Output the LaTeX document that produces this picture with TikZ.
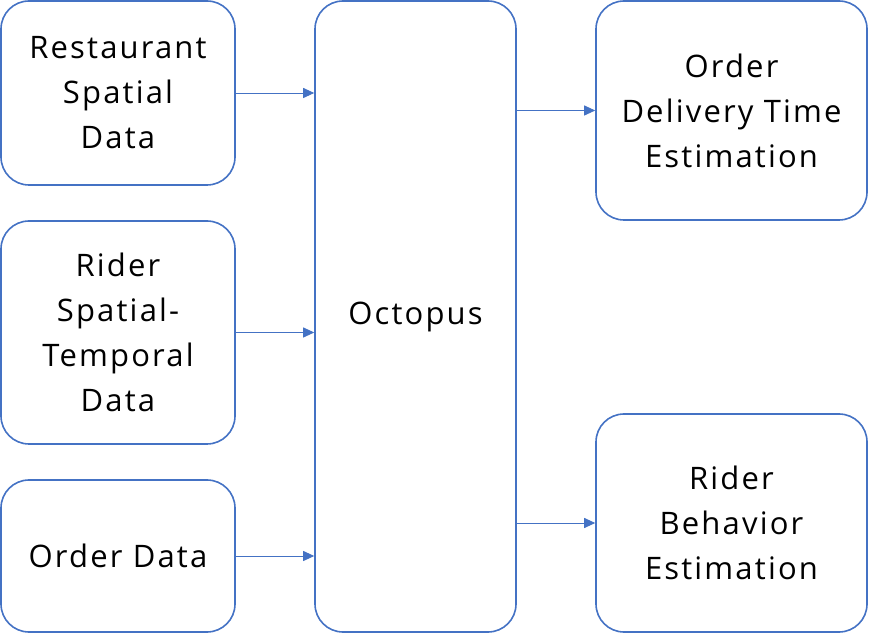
\documentclass[tikz,border=0pt]{standalone}
\usepackage{fontspec}
\setmainfont[LetterSpace=7]{Open Sans}
\usepackage{xcolor}
\usetikzlibrary{positioning,arrows.meta}
\definecolor{cblue}{RGB}{68,114,196}

\begin{document}
\begin{tikzpicture}[x=1pt, y=1pt,
      block/.style={draw=cblue, rounded corners=28pt, line width=1.6pt, align=center,
                    font=\fontsize{31}{45}\selectfont, inner sep=0pt},
      arrow/.style={-{Triangle[length=11pt, width=10pt]}, line width=0.9pt, cblue}
    ]
    \useasboundingbox (0,0) rectangle (874,634);
    \node[block, minimum width=234pt, minimum height=184pt] (rest) at (118,541) {Restaurant\\Spatial\\Data};
    \node[block, minimum width=234pt, minimum height=223pt] (rider) at (118,301.5) {Rider\\Spatial-\\Temporal\\Data};
    \node[block, minimum width=234pt, minimum height=152pt] (order) at (118,78) {Order Data};
    \node[block, minimum width=201pt, minimum height=631pt] (oct) at (415.5,317.5) {Octopus};
    \node[block, minimum width=271pt, minimum height=219pt] (odt) at (731.5,523.5) {Order\\Delivery Time\\Estimation};
    \node[block, minimum width=271pt, minimum height=218pt] (rbe) at (731.5,111) {Rider\\Behavior\\Estimation};
    % inputs
    \draw[arrow] (rest.east) -- (rest.east -| oct.west);
    \draw[arrow] (rider.east) -- (rider.east -| oct.west);
    \draw[arrow] (order.east) -- (order.east -| oct.west);
    % outputs
    \draw[arrow] (odt.west -| oct.east) -- (odt.west);
    \draw[arrow] (rbe.west -| oct.east) -- (rbe.west);
  \end{tikzpicture}
\end{document}
